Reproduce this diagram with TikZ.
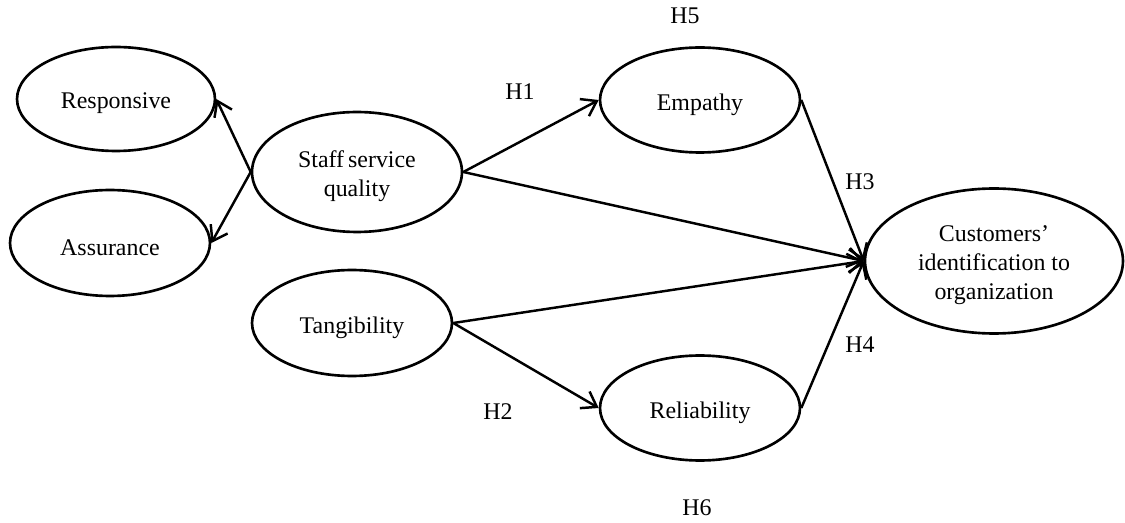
\documentclass[tikz,border=0pt]{standalone}
\usepackage{fontspec}
\setmainfont{Liberation Serif}
\usetikzlibrary{shapes.geometric,arrows.meta}
\begin{document}
\begin{tikzpicture}[x=0.02cm,y=-0.02cm,
  latent/.style={draw,line width=1.5pt,ellipse,inner sep=0pt},
  inner/.style={align=center,yshift=-0.09cm,font=\fontsize{13.6}{16.5}\selectfont},
  link/.style={line width=1.4pt,-{Straight Barb[length=8pt,width=11pt,line width=1.4pt]}},
  hyp/.style={font=\fontsize{13.6}{16}\selectfont}]
\useasboundingbox (0,0) rectangle (1125,523);
\node[latent,minimum width=3.96cm,minimum height=2.08cm,label={[inner]center:Responsive}] (resp) at (116,99) {};
\node[latent,minimum width=4.0cm,minimum height=2.12cm,label={[inner]center:Assurance}] (assur) at (110,243) {};
\node[latent,minimum width=4.2cm,minimum height=2.4cm,label={[inner]center:{Staff\,service\\quality}}] (staff) at (357,172) {};
\node[latent,minimum width=4.0cm,minimum height=2.12cm,label={[inner]center:Tangibility}] (tang) at (352,323) {};
\node[latent,minimum width=4.0cm,minimum height=2.1cm,label={[inner]center:Empathy}] (emp) at (700,100) {};
\node[latent,minimum width=4.0cm,minimum height=2.1cm,label={[inner]center:Reliability}] (rel) at (700,408) {};
\node[latent,minimum width=5.16cm,minimum height=2.9cm,label={[inner]center:{Customers'\\identification to\\organization}}] (cust) at (994,261) {};
\draw[link] (staff.west) -- (resp.east);
\draw[link] (staff.west) -- (assur.east);
\draw[link] (staff.east) -- (emp.west);
\draw[link] (staff.east) -- (cust.west);
\draw[link] (tang.east) -- (cust.west);
\draw[link] (tang.east) -- (rel.west);
\draw[link] (emp.east) -- (cust.west);
\draw[link] (rel.east) -- (cust.west);
\node[hyp] (h5) at (685,16) {H5};
\node[hyp] (h1) at (520,92) {H1};
\node[hyp] (h3) at (860,182) {H3};
\node[hyp] (h4) at (860,345) {H4};
\node[hyp] (h2) at (498,412) {H2};
\node[hyp] (h6) at (697,508) {H6};
\end{tikzpicture}
\end{document}
